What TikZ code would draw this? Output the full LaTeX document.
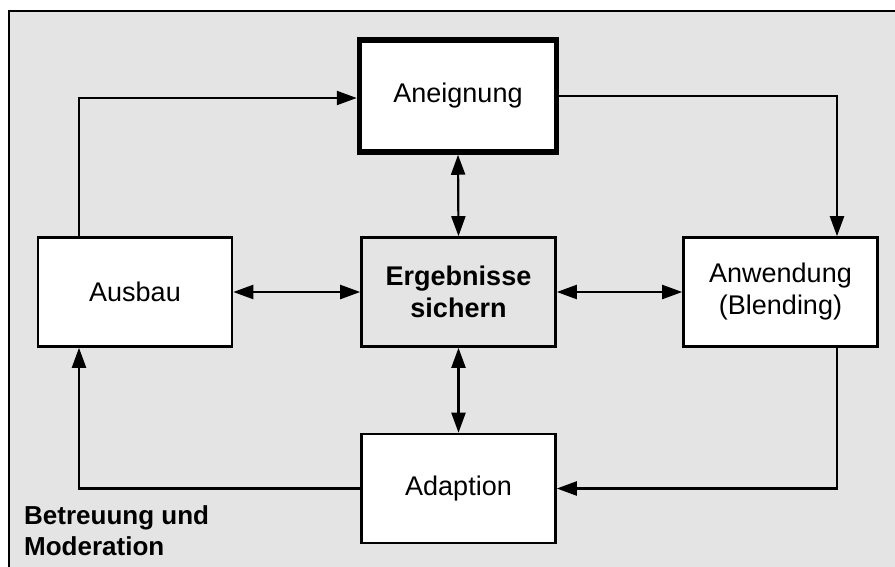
\documentclass[tikz,border=0pt]{standalone}
\usepackage{fontspec}
\setmainfont{Liberation Sans}
\usetikzlibrary{arrows.meta}
\definecolor{panel}{HTML}{E4E4E4}
\begin{document}
\begin{tikzpicture}[x=1pt,y=-1pt,
  box/.style={draw=black, line width=2.6pt, fill=white, minimum width=194pt,
    minimum height=109pt, inner sep=0pt, align=center,
    font=\fontsize{27}{32}\selectfont},
  keybox/.style={box, line width=5.5pt, minimum width=197pt, minimum height=112pt},
  hubbox/.style={box, fill=panel, font=\fontsize{27}{32}\selectfont\bfseries},
  arr/.style={draw=black, line width=2.2pt,
    -{Triangle[length=20pt,width=14pt]}},
  dbl/.style={arr, {Triangle[length=20pt,width=14pt]}-{Triangle[length=20pt,width=14pt]}}]
  \useasboundingbox (0,0) rectangle (895,566);
  \clip (0,0) rectangle (895,566);

  % outer frame
  \draw[line width=2.6pt, fill=panel] (9,11) rectangle (920,600);

  % process boxes
  \node[keybox] (Aneignung) at (458,96) {Aneignung};
  \node[hubbox] (Ergebnisse) at (458.5,292) {Ergebnisse\\sichern};
  \node[box] (Ausbau) at (135,292) {Ausbau};
  \node[box] (Anwendung) at (780.5,292) {Anwendung\\(Blending)};
  \node[box] (Adaption) at (458.5,488.5) {Adaption};

  % routing columns of the outer cycle
  \coordinate (lcol) at (79,98);
  \coordinate (rcol) at (837,489);

  % outer cycle
  \draw[arr] (Ausbau.north -| lcol) |- (Aneignung.west |- lcol);
  \draw[arr] (Aneignung.east) -| (Anwendung.north -| rcol);
  \draw[arr] (Anwendung.south -| rcol) |- (Adaption.east);
  \draw[arr] (Adaption.west) -| (Ausbau.south -| lcol);

  % links to the hub
  \draw[dbl] (Aneignung.south) -- (Ergebnisse.north);
  \draw[dbl] (Ausbau.east) -- (Ergebnisse.west);
  \draw[dbl] (Ergebnisse.east) -- (Anwendung.west);
  \draw[dbl] (Ergebnisse.south) -- (Adaption.north);

  % caption of the frame
  \node[anchor=north west, inner sep=0pt, align=left,
    font=\fontsize{26}{31}\selectfont\bfseries] (frame) at (24,505)
    {Betreuung und\\Moderation};
\end{tikzpicture}
\end{document}
